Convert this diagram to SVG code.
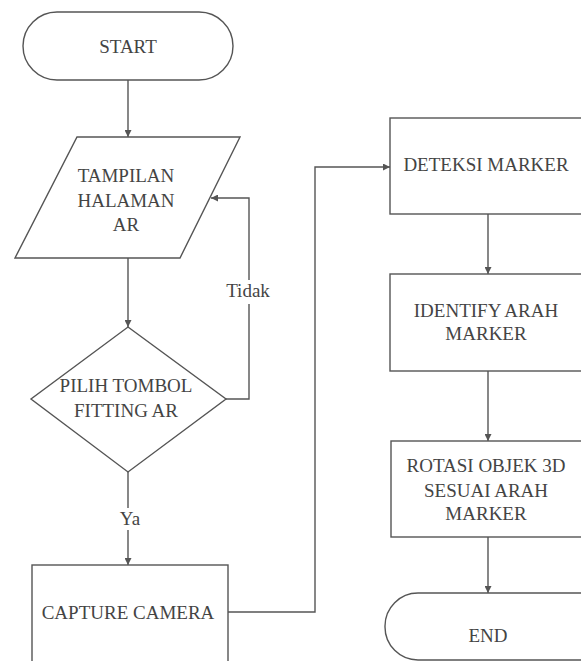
<svg xmlns="http://www.w3.org/2000/svg" width="581" height="661" viewBox="0 0 581 661">
<style>
.s{fill:#fff;stroke:#555;stroke-width:1.4}
.c{fill:none;stroke:#555;stroke-width:1.4}
text{font-family:"Liberation Serif","Times New Roman",serif;font-size:19px;fill:#444;text-anchor:middle}
</style>
<defs>
<marker id="a" viewBox="0 0 10 10" refX="10" refY="5" markerWidth="7" markerHeight="7" markerUnits="userSpaceOnUse" orient="auto">
<path d="M0,0L10,5L0,10z" fill="#555"/>
</marker>
</defs>
<rect width="581" height="661" fill="#fff"/>
<g id="connectors">
<path class="c" d="M128,80V137" marker-end="url(#a)"/>
<path class="c" d="M128,258V327" marker-end="url(#a)"/>
<path class="c" d="M226,399H249V198H211" marker-end="url(#a)"/>
<path class="c" d="M128,472V565" marker-end="url(#a)"/>
<path class="c" d="M228,612H315V167H390" marker-end="url(#a)"/>
<path class="c" d="M488,214V274" marker-end="url(#a)"/>
<path class="c" d="M488,371V441" marker-end="url(#a)"/>
<path class="c" d="M488,537V593" marker-end="url(#a)"/>
<rect x="224" y="280" width="50" height="24" fill="#fff"/>
<text x="248" y="297">Tidak</text>
<rect x="116" y="508" width="26" height="22" fill="#fff"/>
<text x="130" y="525">Ya</text>
</g>
<g id="start">
<rect class="s" x="23" y="12" width="210" height="68" rx="34"/>
<text x="128" y="53">START</text>
</g>
<g id="tampilan">
<path class="s" d="M77,137H240L180,258H15z"/>
<text x="126" y="182">TAMPILAN</text>
<text x="126" y="207">HALAMAN</text>
<text x="126" y="231">AR</text>
</g>
<g id="pilih">
<path class="s" d="M128,327L226,399L128,472L31,399z"/>
<text x="126" y="392">PILIH TOMBOL</text>
<text x="126" y="417">FITTING AR</text>
</g>
<g id="capture">
<rect class="s" x="32" y="565" width="196" height="110"/>
<text x="128" y="619">CAPTURE CAMERA</text>
</g>
<g id="deteksi">
<rect class="s" x="390" y="118" width="210" height="96"/>
<text x="486" y="171">DETEKSI MARKER</text>
</g>
<g id="identify">
<rect class="s" x="390" y="274" width="210" height="97"/>
<text x="486" y="317">IDENTIFY ARAH</text>
<text x="486" y="340">MARKER</text>
</g>
<g id="rotasi">
<rect class="s" x="391" y="441" width="210" height="96"/>
<text x="486" y="472">ROTASI OBJEK 3D</text>
<text x="486" y="497">SESUAI ARAH</text>
<text x="486" y="520">MARKER</text>
</g>
<g id="end">
<rect class="s" x="385" y="593" width="230" height="67" rx="33"/>
<text x="488" y="642">END</text>
</g>
</svg>
